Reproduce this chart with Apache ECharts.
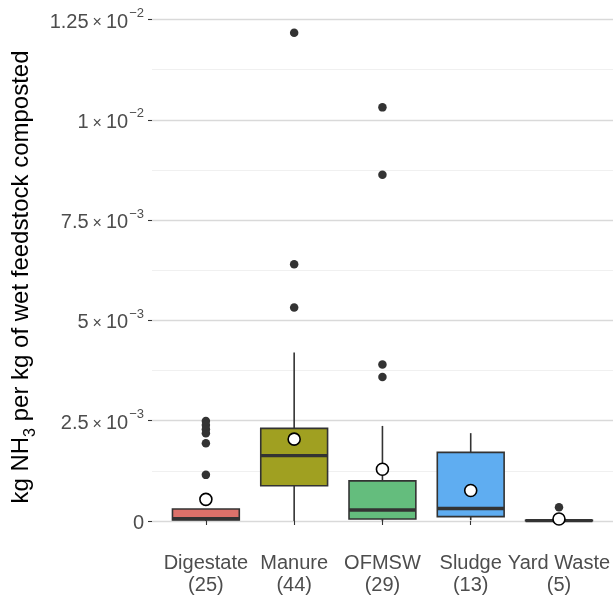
<!DOCTYPE html>
<html>
<head>
<meta charset="utf-8">
<script src="https://cdn.jsdelivr.net/npm/echarts@6/dist/echarts.min.js"></script>
<style>html,body{margin:0;padding:0;background:#fff}#c{width:613px;height:599px}</style>
</head>
<body>
<div id="c"></div>
<script>
// ---- data ----
const categories = ['Digestate', 'Manure', 'OFMSW', 'Sludge', 'Yard Waste'];
const counts = [25, 44, 29, 13, 5];
const whiskerLow = [0.00000, 0.00000, 0.00000, 0.00002, 0.00000];
const q1 = [0.000025, 0.00088, 0.00005, 0.00011, 0.00001];
const medians = [0.00006, 0.00163, 0.000274, 0.00031, 0.00001];
const q3 = [0.00030, 0.00231, 0.00100, 0.00171, 0.00002];
const whiskerHigh = [0.00030, 0.00420, 0.00237, 0.00219, 0.00002];
const means = [0.00054, 0.00204, 0.00129, 0.00076, 0.00005];
const outliersDigestate = [0.00249, 0.00239, 0.00229, 0.00219, 0.00194, 0.00115];
const outliersManure = [0.01217, 0.00640, 0.00532];
const outliersOFMSW = [0.01031, 0.00863, 0.00390, 0.00359];
const outliersSludge = [];
const outliersYardWaste = [0.00034];
const yMajorTicks = [0, 0.0025, 0.005, 0.0075, 0.01, 0.0125];
const yMinorTicks = [0.00125, 0.00375, 0.00625, 0.00875, 0.01125];
const yTickMantissa = ['0', '2.5', '5', '7.5', '1', '1.25'];
const yTickExponent = ['', '\u22123', '\u22123', '\u22123', '\u22122', '\u22122'];

// ---- styles ----
const boxColors = ['#dc716a', '#a0a021', '#64bd7d', '#5fadf1', '#eea3ff'];
const Y_MIN = -0.000598, Y_MAX = 0.012762;
const FONT = 'Liberation Sans, Arial, Helvetica, sans-serif';

const outlierLists = [outliersDigestate, outliersManure, outliersOFMSW, outliersSludge, outliersYardWaste];
const outlierData = [];
outlierLists.forEach((arr, i) => arr.forEach(v => outlierData.push([i, v])));
const meanData = means.map((v, i) => [i, v]);
const boxData = categories.map((c, i) => [i, whiskerLow[i], q1[i], medians[i], q3[i], whiskerHigh[i]]);

const chart = echarts.init(document.getElementById('c'), null, {renderer: 'canvas'});
chart.setOption({
  animation: false,
  backgroundColor: '#ffffff',
  grid: [
    {left: 152, right: 0, top: 9, bottom: 54, containLabel: false},
    {left: 161.75, right: 8.75, top: 9, bottom: 54, containLabel: false}
  ],
  xAxis: [
    {gridIndex: 0, type: 'value', min: 0, max: 1, show: false},
    {
      gridIndex: 1, type: 'category', data: categories,
      boundaryGap: true,
      axisLine: {show: false},
      axisTick: {show: true, alignWithLabel: true, length: 4, lineStyle: {color: '#333333', width: 1.1}},
      splitLine: {show: false},
      axisLabel: {
        margin: 7,
        color: '#4d4d4d', fontSize: 20, fontFamily: FONT, lineHeight: 22,
        interval: 0,
        formatter: (v, i) => v + '\n(' + counts[i] + ')'
      }
    }
  ],
  yAxis: [
    {
      gridIndex: 0, type: 'value', min: Y_MIN, max: Y_MAX,
      axisLine: {show: false},
      axisTick: {show: true, length: 4, customValues: yMajorTicks, lineStyle: {color: '#333333', width: 1.1}},
      splitLine: {show: true, lineStyle: {color: '#d9d9d9', width: 1.3}},
      axisLabel: {
        customValues: yMajorTicks,
        margin: 8,
        formatter: function (v) {
          let idx = yMajorTicks.findIndex(t => Math.abs(t - v) < 1e-9);
          if (idx < 0) return '';
          if (!yTickExponent[idx]) return '{a|' + yTickMantissa[idx] + '}';
          return '{a|' + yTickMantissa[idx] + '}{x|\u00d7}{a|10}{s|' + yTickExponent[idx] + '}';
        },
        rich: {
          a: {fontSize: 20, color: '#4d4d4d', fontFamily: FONT, lineHeight: 25, verticalAlign: 'bottom'},
          x: {fontSize: 16, color: '#4d4d4d', fontFamily: FONT, lineHeight: 25, verticalAlign: 'bottom', padding: [0, 4, 1, 4]},
          s: {fontSize: 13, color: '#4d4d4d', fontFamily: FONT, lineHeight: 14, verticalAlign: 'top', padding: [0, 0, 0, 1]}
        }
      },
      name: '{n|kg NH}{b|3}{n| per kg of wet feedstock composted}',
      nameLocation: 'middle',
      nameGap: 109,
      nameRotate: 90,
      nameTextStyle: {
        rich: {
          n: {fontSize: 24, color: '#000000', fontFamily: FONT, lineHeight: 28, verticalAlign: 'top'},
          b: {fontSize: 16, color: '#000000', fontFamily: FONT, lineHeight: 29, verticalAlign: 'bottom'}
        }
      }
    },
    {
      gridIndex: 0, type: 'value', min: Y_MIN, max: Y_MAX,
      axisLine: {show: false}, axisLabel: {show: false},
      axisTick: {show: false, customValues: yMinorTicks},
      splitLine: {show: true, lineStyle: {color: '#ececec', width: 0.8}}
    },
    {gridIndex: 1, type: 'value', min: Y_MIN, max: Y_MAX, show: false, splitLine: {show: false}}
  ],
  series: [
    {
      type: 'custom',
      xAxisIndex: 1, yAxisIndex: 2,
      data: boxData,
      encode: {x: 0, y: [1, 2, 3, 4, 5]},
      z: 3,
      renderItem: function (params, api) {
        const i = api.value(0);
        const bw = api.size([1, 0])[0] * 0.757;
        const pLo = api.coord([i, api.value(1)]);
        const pQ1 = api.coord([i, api.value(2)]);
        const pMed = api.coord([i, api.value(3)]);
        const pQ3 = api.coord([i, api.value(4)]);
        const pHi = api.coord([i, api.value(5)]);
        const cx = pLo[0];
        const dark = '#333333';
        return {
          type: 'group',
          children: [
            {type: 'line', shape: {x1: cx, y1: pQ3[1], x2: cx, y2: pHi[1]}, style: {stroke: dark, lineWidth: 1.6}},
            {type: 'line', shape: {x1: cx, y1: pQ1[1], x2: cx, y2: pLo[1]}, style: {stroke: dark, lineWidth: 1.6}},
            {type: 'rect', shape: {x: cx - bw / 2, y: pQ3[1], width: bw, height: Math.max(pQ1[1] - pQ3[1], 0.01)},
              style: {fill: boxColors[params.dataIndex], stroke: dark, lineWidth: 1.6}},
            {type: 'line', shape: {x1: cx - bw / 2, y1: pMed[1], x2: cx + bw / 2, y2: pMed[1]}, style: {stroke: dark, lineWidth: 3.4}}
          ]
        };
      }
    },
    {
      type: 'scatter', xAxisIndex: 1, yAxisIndex: 2,
      data: outlierData, symbol: 'circle', symbolSize: 8.5, z: 4,
      itemStyle: {color: '#333333', opacity: 1}
    },
    {
      type: 'scatter', xAxisIndex: 1, yAxisIndex: 2,
      data: meanData, symbol: 'circle', symbolSize: 12, z: 5,
      itemStyle: {color: '#ffffff', borderColor: '#000000', borderWidth: 1.6, opacity: 1}
    }
  ]
});
</script>
</body>
</html>
